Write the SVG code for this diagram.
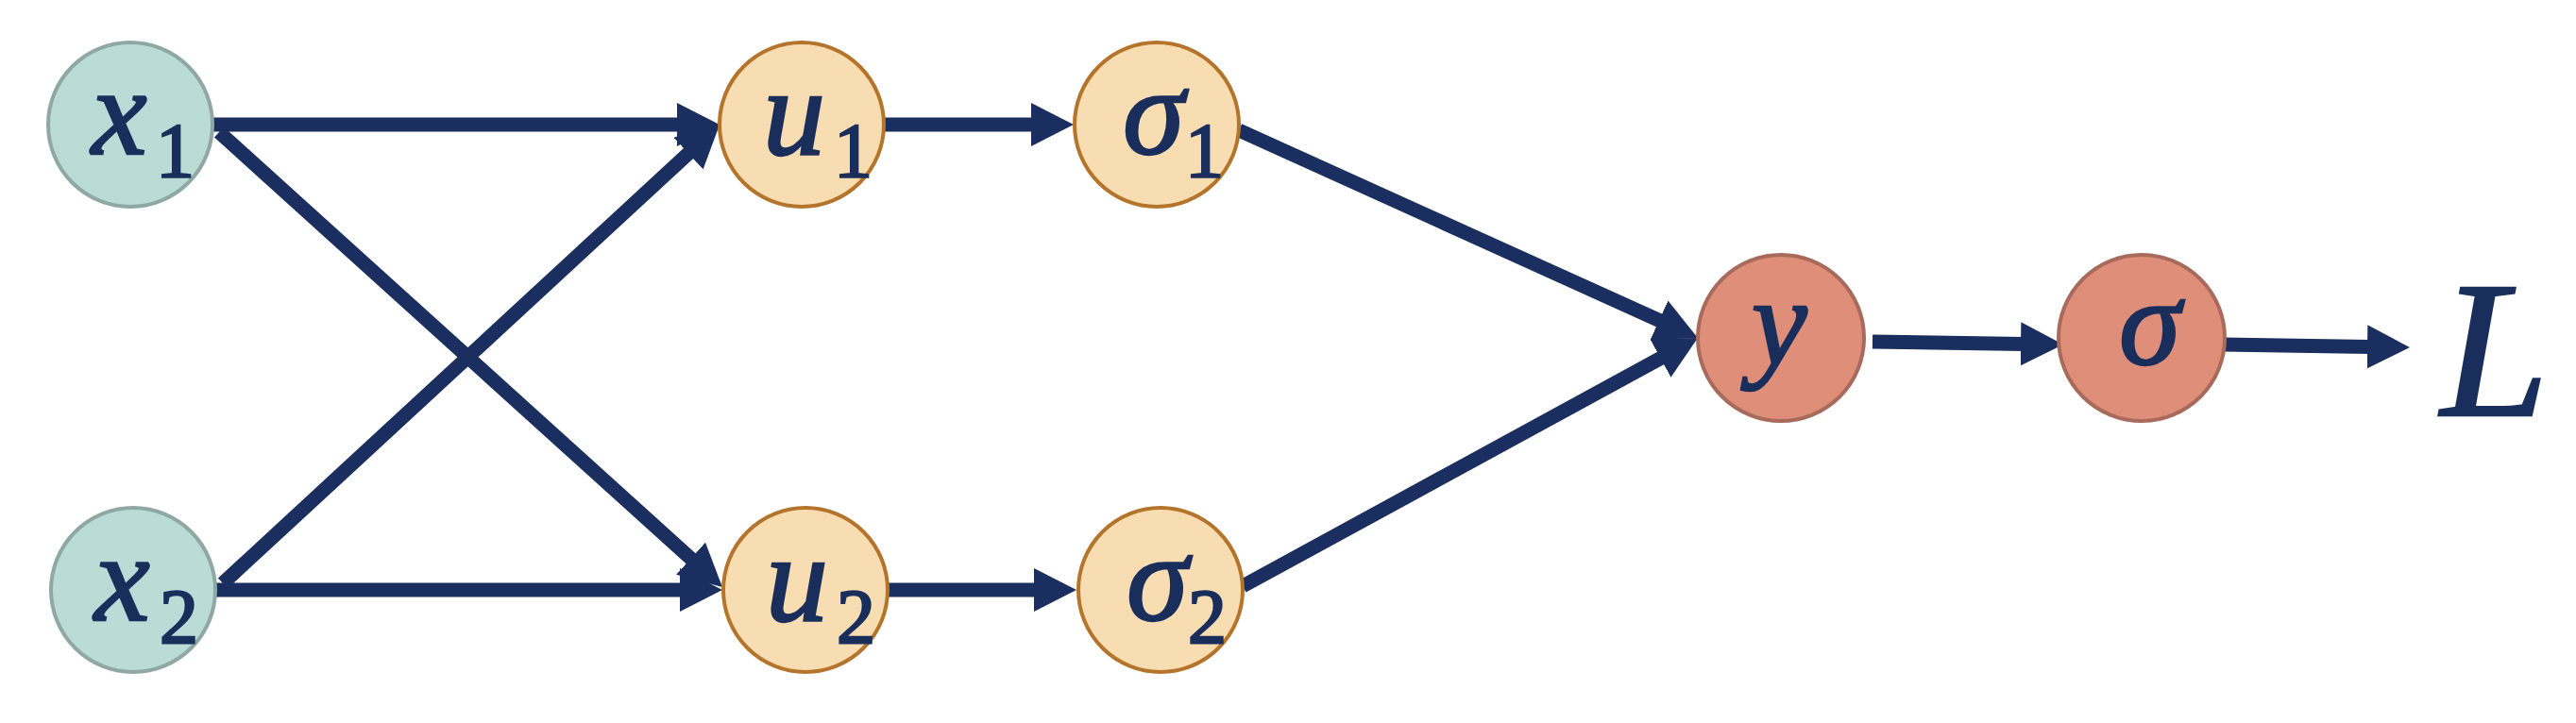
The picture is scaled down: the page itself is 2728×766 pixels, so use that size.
<svg xmlns="http://www.w3.org/2000/svg" width="2728" height="766" viewBox="0 0 2728 766">
<style>
.in{fill:#BADBD6;stroke:#8FA8A3;stroke-width:4}
.hid{fill:#F8DDB2;stroke:#B4742B;stroke-width:4}
.out{fill:#DF8E79;stroke:#A86A5A;stroke-width:4}
.lab{font-family:"Liberation Serif",serif;font-style:italic;font-size:132px;fill:#1A2E5C;stroke:#1A2E5C;stroke-width:2.5}
.sub{font-style:normal;font-size:82px}
.edge{stroke:#1A2F5F;stroke-width:15;fill:none;marker-end:url(#ah)}
</style>
<defs>
<marker id="ah" viewBox="0 0 45 46" refX="3" refY="23" markerWidth="45" markerHeight="46" orient="auto" markerUnits="userSpaceOnUse">
<path d="M0,0 L45,23 L0,46 Z" fill="#1A2F5F"/>
</marker>
</defs>
<rect width="2728" height="766" fill="#FFFFFF"/>
<g id="connectors">
<line class="edge" x1="226" y1="132" x2="720" y2="132"/>
<line class="edge" x1="936" y1="132" x2="1095" y2="132"/>
<line class="edge" x1="228" y1="625" x2="723" y2="625"/>
<line class="edge" x1="941" y1="625" x2="1098" y2="625"/>
<line class="edge" x1="232" y1="140" x2="733.8" y2="593.8"/>
<line class="edge" x1="236" y1="618" x2="731.2" y2="160.5"/>
<line class="edge" x1="1312" y1="138" x2="1759.7" y2="340.7"/>
<line class="edge" x1="1316" y1="621" x2="1761.1" y2="378.1"/>
<line class="edge" x1="1983" y1="362" x2="2143" y2="364.4"/>
<line class="edge" x1="2354" y1="365" x2="2510" y2="367.4"/>
</g>
<g id="x1">
<circle class="in" cx="138" cy="132" r="87"/>
<text class="lab" x="97" y="163">x<tspan class="sub" x="165" y="187">1</tspan></text>
</g>
<g id="x2">
<circle class="in" cx="141" cy="625" r="87"/>
<text class="lab" x="100" y="657">x<tspan class="sub" x="169" y="681">2</tspan></text>
</g>
<g id="u1">
<circle class="hid" cx="849" cy="132" r="87"/>
<text class="lab" x="808" y="163">u<tspan class="sub" x="883" y="187">1</tspan></text>
</g>
<g id="u2">
<circle class="hid" cx="853" cy="625" r="87"/>
<text class="lab" x="811" y="657">u<tspan class="sub" x="886" y="681">2</tspan></text>
</g>
<g id="sigma1">
<circle class="hid" cx="1225" cy="132" r="87"/>
<text class="lab" x="1189" y="163">σ<tspan class="sub" x="1255" y="187">1</tspan></text>
</g>
<g id="sigma2">
<circle class="hid" cx="1229" cy="625" r="87"/>
<text class="lab" x="1193" y="657">σ<tspan class="sub" x="1258" y="681">2</tspan></text>
</g>
<g id="y">
<circle class="out" cx="1886" cy="358" r="88"/>
<text class="lab" x="1855" y="386">y</text>
</g>
<g id="sigma">
<circle class="out" cx="2268" cy="358" r="88"/>
<text class="lab" x="2244" y="386">σ</text>
</g>
<g id="L">
<text class="lab" x="2585" y="440" style="font-size:205px">L</text>
</g>
</svg>
